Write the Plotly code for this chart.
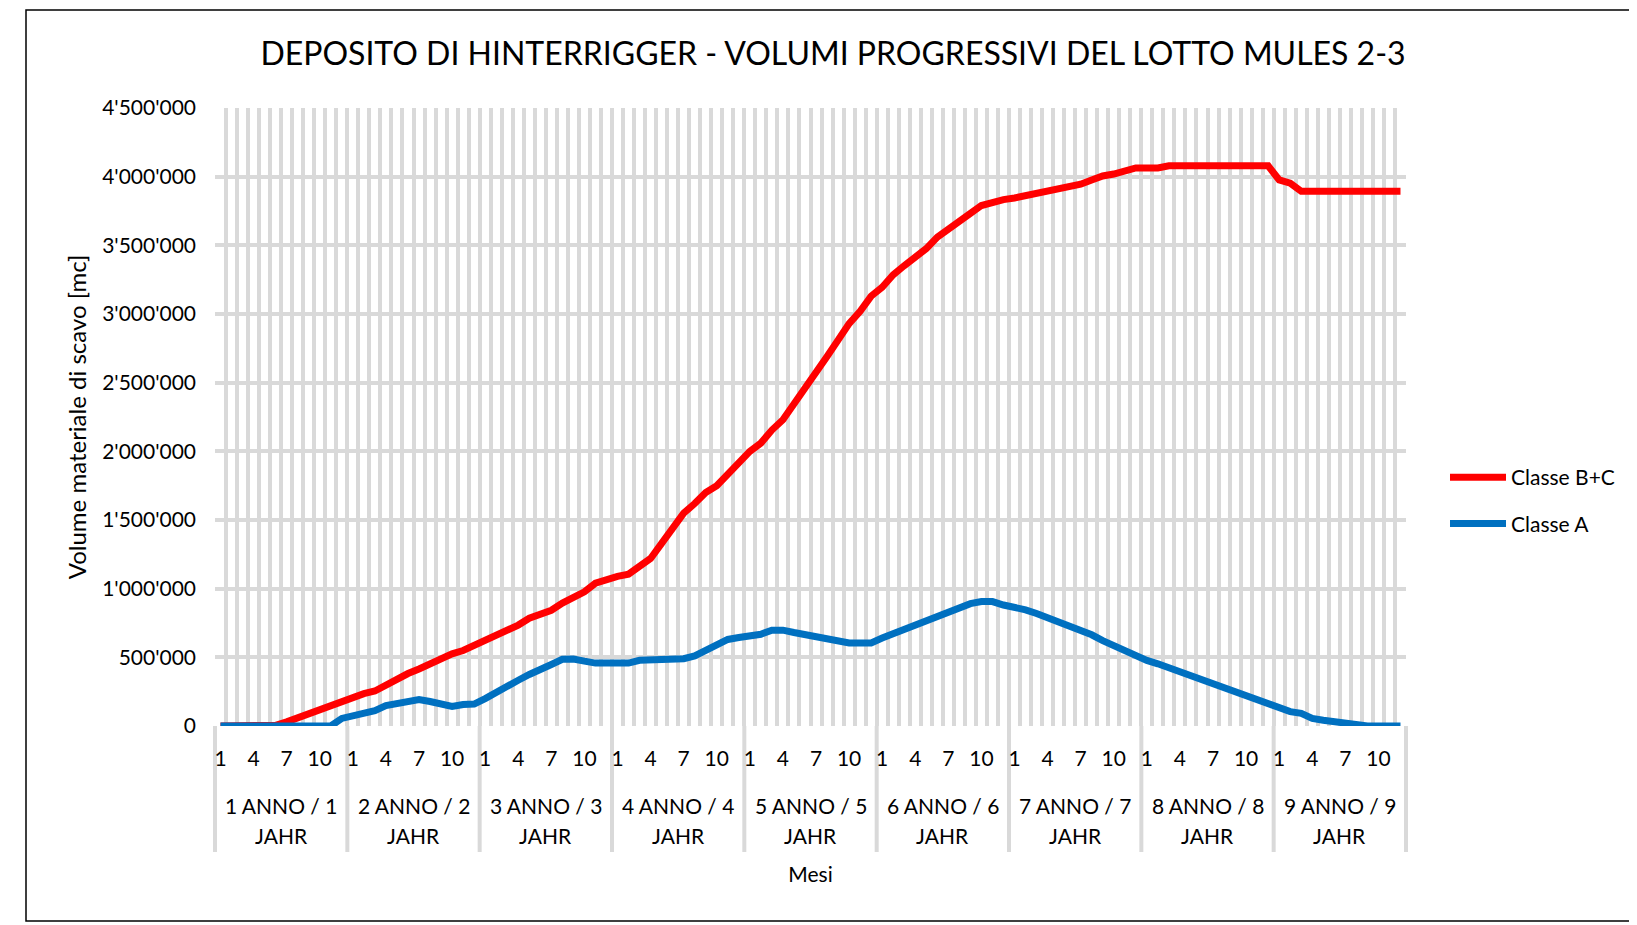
import plotly.graph_objects as go

# ---------------- data (m3, monthly, 9 years x 12 months) ----------------
years = ["1 ANNO / 1", "2 ANNO / 2", "3 ANNO / 3", "4 ANNO / 4", "5 ANNO / 5",
         "6 ANNO / 6", "7 ANNO / 7", "8 ANNO / 8", "9 ANNO / 9"]
year_sub = "JAHR"
months = list(range(1, 13))
month_labels_shown = [1, 4, 7, 10]

classe_bc = [
    0, 0, 0, 0, 0, 5000, 30000, 60000, 90000, 115000, 140000, 175000,
    210000, 236000, 255000, 302000, 338000, 382000, 415000, 455000, 497000, 525000, 550000, 585000,
    620000, 665000, 700000, 735000, 785000, 820000, 843000, 895000, 935000, 977000, 1040000, 1070000,
    1090000, 1106000, 1160000, 1220000, 1330000, 1430000, 1550000, 1620000, 1700000, 1750000, 1830000, 1910000,
    2000000, 2060000, 2155000, 2230000, 2340000, 2450000, 2560000, 2690000, 2810000, 2930000, 3020000, 3130000,
    3195000, 3286000, 3352000, 3417000, 3476000, 3560000, 3620000, 3686000, 3733000, 3790000, 3817000, 3833000,
    3845000, 3862000, 3876000, 3900000, 3917000, 3929000, 3945000, 3976000, 4005000, 4019000, 4048000, 4064000,
    4064000, 4064000, 4079000, 4079000, 4079000, 4079000, 4079000, 4079000, 4079000, 4079000, 4079000, 4079000,
    3976000, 3952000, 3893000, 3893000, 3893000, 3893000, 3893000, 3893000, 3893000, 3893000, 3893000, 3893000,
]

classe_a = [
    0, 0, 0, 0, 0, 0, 0, 0, 0, 0, 0, 55000,
    72000, 97000, 112000, 148000, 163000, 180000, 193000, 178000, 160000, 142000, 157000, 160000,
    200000, 248000, 289000, 333000, 375000, 418000, 448000, 486000, 488000, 472000, 458000, 458000,
    458000, 458000, 478000, 478000, 478000, 490000, 490000, 510000, 547000, 588000, 630000, 644000,
    656000, 668000, 698000, 698000, 681000, 666000, 654000, 637000, 620000, 605000, 605000, 605000,
    640000, 672000, 702000, 727000, 759000, 789000, 831000, 863000, 891000, 906000, 906000, 881000,
    866000, 846000, 819000, 789000, 761000, 731000, 689000, 664000, 622000, 585000, 552000, 515000,
    478000, 453000, 423000, 396000, 366000, 336000, 311000, 279000, 249000, 216000, 192000, 154000,
    122000, 105000, 92000, 55000, 42000, 30000, 17000, 5000, 0, 0, 0, 0,
]

# ---------------- derived category positions ----------------
n_months = len(years) * len(months)
x_idx = list(range(n_months))
tickvals = [y * len(months) + (m - 1) for y in range(len(years)) for m in month_labels_shown]
ticktext = [str(m) for y in range(len(years)) for m in month_labels_shown]

FONT = "Lato, 'Open Sans', sans-serif"
GRID = "#d9d9d9"
OFF = 8                      # page body margin
W, H = 1637 - OFF, 925 - OFF
L, R, T, B = 207, 231, 100, 199
plot_h = H - T - B
plot_w = W - L - R


def py(page_y):
    """page pixel row -> paper y"""
    return (H - B - (page_y - OFF)) / plot_h


def px(page_x):
    """page pixel column -> paper x"""
    return (page_x - OFF - L) / plot_w


fig = go.Figure()
fig.add_trace(go.Scatter(x=x_idx, y=classe_bc, mode="lines", name="Classe B+C",
                         legendgroup="bc",
                         line=dict(color="#FF0000", width=7)))
fig.add_trace(go.Scatter(x=x_idx, y=classe_a, mode="lines", name="Classe A",
                         legendgroup="a",
                         line=dict(color="#0070C0", width=7)))

shapes = []
# year separators extending below the axis
for k in range(len(years) + 1):
    shapes.append(dict(type="line", xref="x domain", yref="paper",
                       x0=k / len(years), x1=k / len(years), y0=0, y1=py(852),
                       line=dict(color=GRID, width=4), layer="below"))
# outer chart frame
shapes.append(dict(type="rect", xref="paper", yref="paper",
                   x0=px(26), x1=px(1700), y0=py(921), y1=py(10),
                   line=dict(color="#000000", width=1.5), fillcolor="rgba(0,0,0,0)"))

annotations = []
for k, yl in enumerate(years):
    xc = k * len(months) + (len(months) - 1) / 2
    annotations.append(dict(x=xc, y=py(805), xref="x", yref="paper", text=yl,
                            showarrow=False, font=dict(size=21, color="#000000", family=FONT),
                            xanchor="center", yanchor="middle"))
    annotations.append(dict(x=xc, y=py(835), xref="x", yref="paper", text=year_sub,
                            showarrow=False, font=dict(size=21, color="#000000", family=FONT),
                            xanchor="center", yanchor="middle"))

fig.update_layout(
    width=W, height=H,
    margin=dict(l=L, r=R, t=T, b=B, autoexpand=False),
    paper_bgcolor="white", plot_bgcolor="white",
    separators=".'",
    font=dict(family=FONT, size=21, color="#000000"),
    title=dict(text="DEPOSITO DI HINTERRIGGER - VOLUMI PROGRESSIVI DEL LOTTO MULES 2-3",
               xref="container", x=(833 - OFF) / W, xanchor="center",
               yref="container", y=1 - (54 - OFF) / H, yanchor="middle",
               font=dict(size=32, family=FONT, color="#000000")),
    xaxis=dict(range=[-0.5, n_months - 0.5], tickmode="array", tickvals=tickvals,
               ticktext=ticktext, showgrid=False, zeroline=False, showline=False,
               ticks="", ticklabelstandoff=18, tickfont=dict(size=21),
               minor=dict(tickmode="array", tickvals=[i - 0.5 for i in range(n_months + 1)],
                          showgrid=True, gridcolor=GRID, gridwidth=4, ticks=""),
               title=dict(text="Mesi", standoff=98, font=dict(size=21))),
    yaxis=dict(range=[0, 4500000], dtick=500000, tick0=0, tickformat=",d",
               showgrid=True, gridcolor=GRID, gridwidth=4, zeroline=False,
               showline=False, ticks="", ticklabelstandoff=18, tickfont=dict(size=21),
               title=dict(text="Volume materiale di scavo [mc]", standoff=8,
                          font=dict(size=24))),
    legend=dict(x=px(1445), y=py(500.5), xanchor="left", yanchor="middle",
                font=dict(size=21), bgcolor="rgba(0,0,0,0)", traceorder="grouped",
                tracegroupgap=16, itemwidth=56, itemclick=False),
    shapes=shapes,
    annotations=annotations,
    showlegend=True,
)

fig.write_html("out.html")
